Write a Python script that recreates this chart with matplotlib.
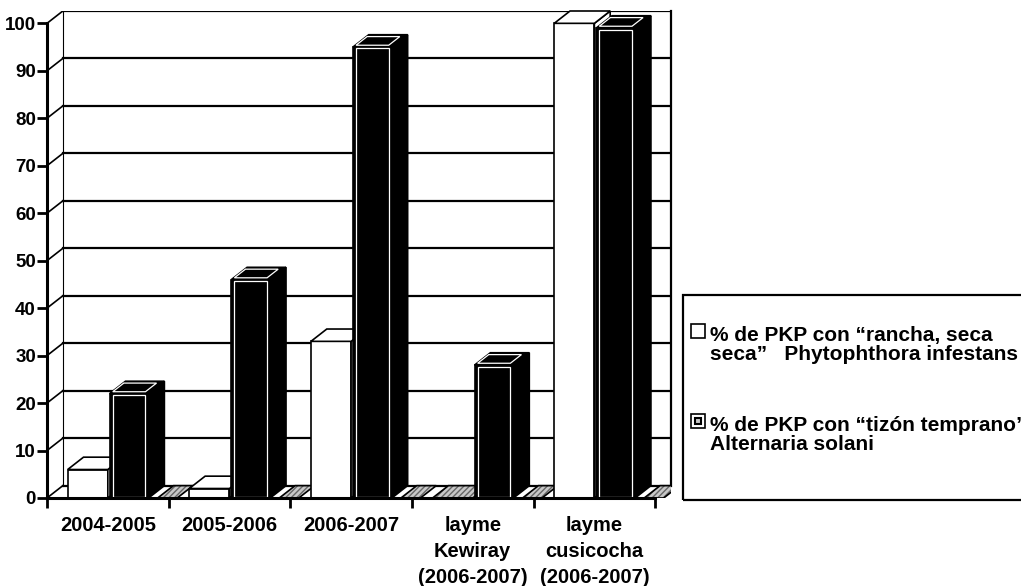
import matplotlib.pyplot as plt
from matplotlib.patches import Rectangle, Polygon

plt.rcParams['font.family'] = ['Liberation Sans', 'DejaVu Sans']
plt.rcParams['font.weight'] = 'bold'

# Data
categorias = ['2004-2005', '2005-2006', '2006-2007',
              'layme\nKewiray\n(2006-2007)', 'layme\ncusicocha\n(2006-2007)']
rancha = [6, 2, 33, 0, 100]
tizon = [22, 46, 95, 28, 99]
otra = [0, 0, 0, 0, 0]
leyenda = ['% de PKP con “rancha, seca\nseca”   Phytophthora infestans',
           '% de PKP con “tizón temprano”\nAlternaria solani']
yticks = list(range(0, 101, 10))

# 3D look: depth offset in data units
dx, dy = 0.13, 2.6
W, H = 1021, 586

fig = plt.figure(figsize=(W / 100, H / 100), dpi=100)
ax = fig.add_axes([47 / W, 88 / H, (671 - 47) / W, (498 - 11) / H])
ax.set_xlim(0, len(categorias) + dx)
ax.set_ylim(0, 100 + dy)

# back wall with gridlines
n = len(categorias)
for v in yticks:
    ax.plot([dx, n + dx], [v + dy, v + dy], color='black', lw=1.6, zorder=1)
    ax.plot([0, dx], [v, v + dy], color='black', lw=1.2, zorder=1)
ax.plot([dx, dx], [dy, 100 + dy], color='black', lw=0.8, zorder=1)
ax.plot([n + dx, n + dx], [dy, 100 + dy], color='black', lw=1.6, zorder=1, clip_on=False)
ax.plot([n, n + dx], [0, dy], color='black', lw=1.2, zorder=1)

z = [3]


def caja(rect, color):
    x0, w, h = rect.get_x(), rect.get_width(), rect.get_height()
    z[0] += 1
    if h == 0:
        pts = [(x0, 0), (x0 + w, 0), (x0 + w + dx, dy), (x0 + dx, dy)]
        ax.add_patch(Polygon(pts, facecolor='#c8c8c8', edgecolor='#666666',
                             hatch='//////', lw=0, zorder=z[0]))
        ax.add_patch(Polygon(pts, fill=False, edgecolor='black', lw=1.2, zorder=z[0]))
        rect.remove()
        return
    rect.set_zorder(z[0])
    top = [(x0, h), (x0 + w, h), (x0 + w + dx, h + dy), (x0 + dx, h + dy)]
    side = [(x0 + w, 0), (x0 + w + dx, dy), (x0 + w + dx, h + dy), (x0 + w, h)]
    ax.add_patch(Polygon(side, facecolor=color, edgecolor='black', lw=1.2,
                         zorder=z[0], clip_on=False))
    ax.add_patch(Polygon(top, facecolor=color, edgecolor='black', lw=1.2,
                         zorder=z[0], clip_on=False))
    if color == 'black':
        # thin white inner outline typical of the printed chart
        ix = w * 0.08
        inner = [(x0 + ix, h + dy * 0.15), (x0 + w - ix, h + dy * 0.15),
                 (x0 + w - ix + dx * 0.7, h + dy * 0.85), (x0 + ix + dx * 0.7, h + dy * 0.85)]
        ax.add_patch(Polygon(inner, fill=False, edgecolor='white', lw=0.9,
                             zorder=z[0], clip_on=False))
        ax.add_patch(Rectangle((x0 + ix, 0.3), w - 2 * ix, h - 0.6, fill=False,
                               edgecolor='white', lw=0.9, zorder=z[0]))


pos = list(range(n))
for i in pos:
    b1 = ax.bar(i + 0.17, rancha[i], width=0.33, align='edge', color='white',
                edgecolor='black', lw=1.2, clip_on=False)[0]
    caja(b1, 'white')
    b2 = ax.bar(i + 0.515, tizon[i], width=0.32, align='edge', color='black',
                edgecolor='black', lw=1.2, clip_on=False)[0]
    caja(b2, 'black')
    b3 = ax.bar(i + 0.91, otra[i], width=0.16, align='edge', color='#c8c8c8')[0]
    caja(b3, '#c8c8c8')

# axes
for s in ['top', 'right']:
    ax.spines[s].set_visible(False)
ax.spines['left'].set_bounds(0, 100)
ax.spines['bottom'].set_bounds(0, n)
ax.spines['left'].set_linewidth(2.2)
ax.spines['bottom'].set_linewidth(2.2)
ax.spines['left'].set_zorder(50)
ax.spines['bottom'].set_zorder(50)
ax.set_yticks(yticks)
ax.set_yticklabels([str(v) for v in yticks], fontsize=13.5, fontweight='bold')
ax.tick_params(axis='y', direction='out', length=7, width=2, pad=1)
ax.set_xticks(range(n + 1))
ax.set_xticklabels([])
ax.set_xticks([i + 0.5 for i in pos], minor=True)
ax.set_xticklabels(categorias, minor=True, fontsize=14.5, fontweight='bold',
                   linespacing=1.45, va='top')
ax.tick_params(axis='x', which='major', direction='out', length=7, width=2)
ax.tick_params(axis='x', which='minor', length=0, pad=13)

# legend (drawn by hand, marker aligned with the first line)
fig.patches.append(Rectangle((683 / W, 1 - 500 / H), 0.4, (500 - 295) / H,
                             transform=fig.transFigure, fill=False,
                             edgecolor='black', lw=1.6))
for k, (lab, y) in enumerate(zip(leyenda, [326, 416])):
    fig.patches.append(Rectangle((691 / W, 1 - (y + 12) / H), 14 / W, 14 / H,
                                 transform=fig.transFigure, facecolor='white',
                                 edgecolor='black', lw=1.2))
    if k == 1:
        fig.patches.append(Rectangle((695 / W, 1 - (y + 8) / H), 6 / W, 6 / H,
                                     transform=fig.transFigure, facecolor='#c8c8c8',
                                     edgecolor='black', lw=1.5))
    fig.text(710 / W, 1 - y / H, lab, fontsize=15, fontweight='bold',
             va='top', ha='left', linespacing=1.0)

fig.savefig('out.png', dpi=100)
